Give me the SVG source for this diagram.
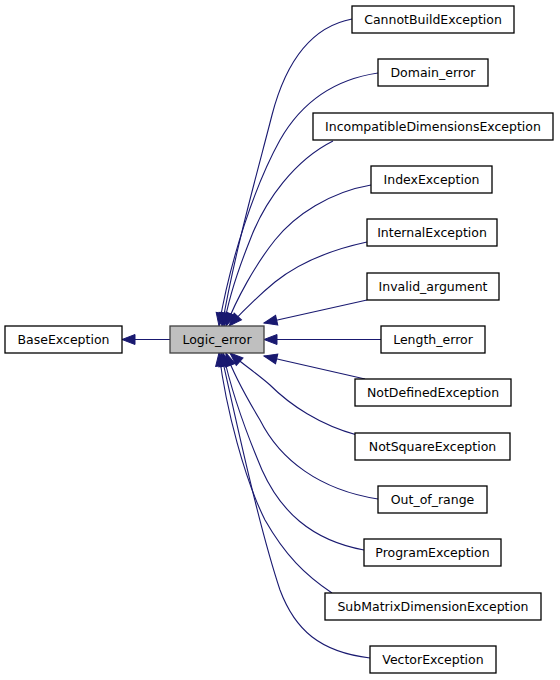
<svg xmlns="http://www.w3.org/2000/svg" width="560" height="680" viewBox="0 0 560 680">
<style>
.n rect{fill:#fff;stroke:#000;stroke-width:1.3}
.n text{font-family:"DejaVu Sans",sans-serif;font-size:12.5px;text-anchor:middle;fill:#000}
#logic rect{fill:#bfbfbf;stroke:#404040}
.e path{fill:none;stroke:#191970;stroke-width:1.1;marker-end:url(#ah)}
</style>
<defs>
<marker id="ah" markerUnits="userSpaceOnUse" markerWidth="14" markerHeight="11" refX="13" refY="5" orient="auto" overflow="visible">
<path d="M0,0 L13,5 L0,10 z" fill="#191970" stroke="#191970" stroke-width="1"/>
</marker>
</defs>
<rect width="560" height="680" fill="#fff"/>
<g id="edges" class="e">
<path d="M170,339.5 L122,339.5"/>
<path d="M352,19 C310,27 285,65 272,115 C258,170 235,250 222,326"/>
<path d="M378,73 C330,80 300,105 280,140 C255,185 230,260 219,326"/>
<path d="M333,141 C295,160 265,200 250,240 C238,270 228,300 224,326"/>
<path d="M371,185 C330,192 295,215 275,240 C255,265 236,300 226,326"/>
<path d="M367,242 C330,250 300,262 275,282 C258,296 242,312 229,326"/>
<path d="M367,300 L264,323"/>
<path d="M381,339.5 L264,339.5"/>
<path d="M365,379 L264,356"/>
<path d="M357,435 C320,425 290,405 270,385 C255,372 240,362 230,353"/>
<path d="M378,499 C320,490 280,460 260,420 C245,395 232,370 226,353"/>
<path d="M364,550 C310,540 280,510 262,470 C245,430 230,385 223,353"/>
<path d="M332,593 C305,575 285,555 265,520 C245,480 226,410 219,353"/>
<path d="M370,658 C320,652 295,630 280,590 C260,530 238,430 221,353"/>
</g>
<g id="base" class="n"><rect x="5" y="326" width="117" height="27"/><text x="63.5" y="344">BaseException</text></g>
<g id="logic" class="n"><rect x="170" y="326" width="94" height="27"/><text x="217" y="344">Logic_error</text></g>
<g id="cannot" class="n"><rect x="352" y="6" width="162" height="27"/><text x="433" y="24">CannotBuildException</text></g>
<g id="domain" class="n"><rect x="378" y="59" width="110" height="27"/><text x="433" y="77">Domain_error</text></g>
<g id="incompat" class="n"><rect x="313" y="113" width="240" height="27"/><text x="433" y="131">IncompatibleDimensionsException</text></g>
<g id="index" class="n"><rect x="371" y="166" width="121" height="27"/><text x="431.5" y="184">IndexException</text></g>
<g id="internal" class="n"><rect x="367" y="219" width="130" height="27"/><text x="432" y="237">InternalException</text></g>
<g id="invalid" class="n"><rect x="367" y="273" width="132" height="27"/><text x="433" y="291">Invalid_argument</text></g>
<g id="length" class="n"><rect x="381" y="326" width="104" height="27"/><text x="433" y="344">Length_error</text></g>
<g id="notdef" class="n"><rect x="355" y="379" width="156" height="27"/><text x="433" y="397">NotDefinedException</text></g>
<g id="notsq" class="n"><rect x="355" y="433" width="155" height="27"/><text x="432.5" y="451">NotSquareException</text></g>
<g id="oor" class="n"><rect x="378" y="486" width="109" height="27"/><text x="432.5" y="504">Out_of_range</text></g>
<g id="program" class="n"><rect x="364" y="539" width="137" height="27"/><text x="432.5" y="557">ProgramException</text></g>
<g id="submatrix" class="n"><rect x="325" y="593" width="216" height="27"/><text x="433" y="611">SubMatrixDimensionException</text></g>
<g id="vector" class="n"><rect x="370" y="646" width="126" height="27"/><text x="433" y="664">VectorException</text></g>
</svg>
